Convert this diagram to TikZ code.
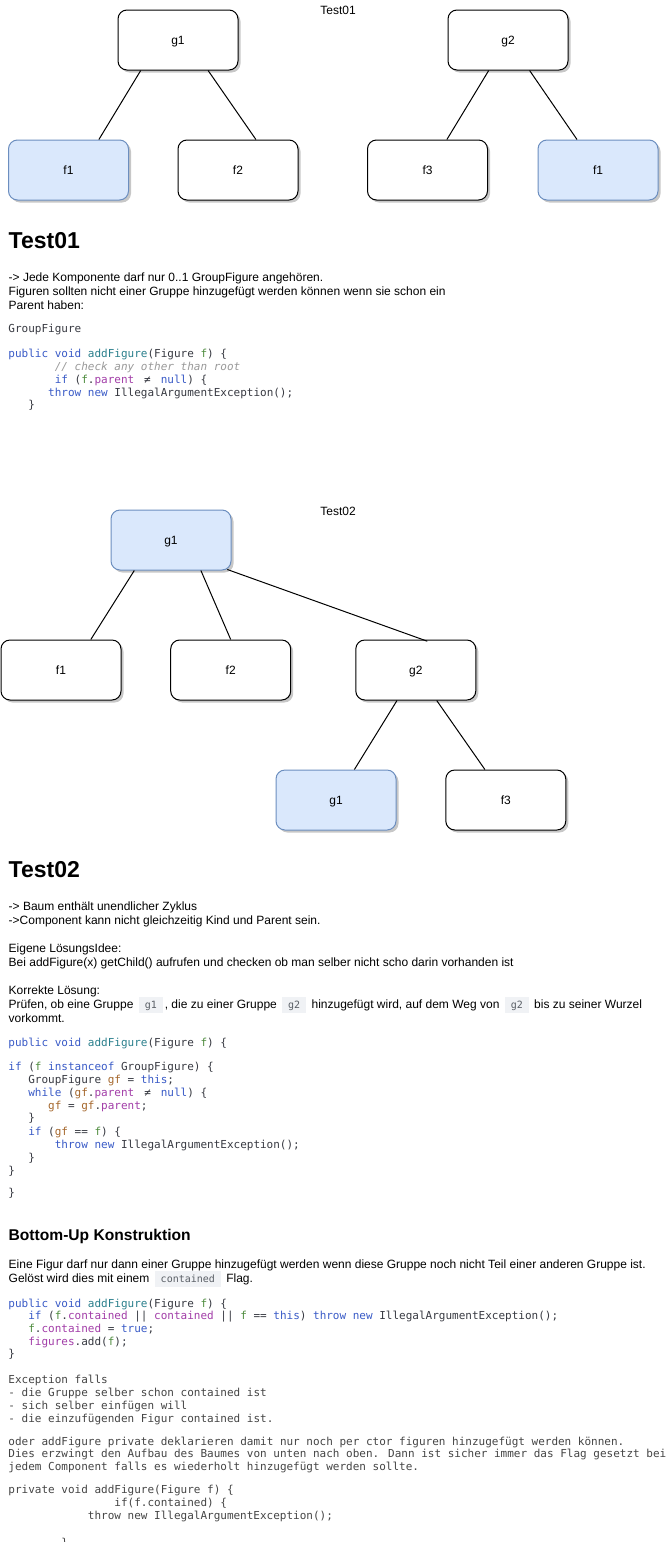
\documentclass[tikz,border=0pt]{standalone}
\usepackage{fontspec}
\setmainfont{Liberation Sans}
\newfontfamily\codefamily{DejaVu Sans Mono}
\usetikzlibrary{shadows}

% palette
\definecolor{boxblue}{HTML}{DAE8FC}
\definecolor{boxblueline}{HTML}{6C8EBF}
\definecolor{kwcol}{HTML}{3A5BC7}
\definecolor{fncol}{HTML}{2A7F8C}
\definecolor{argcol}{HTML}{4E8C3E}
\definecolor{fieldcol}{HTML}{A23DA8}
\definecolor{varcol}{HTML}{A5672C}
\definecolor{commentcol}{HTML}{9A9A9A}
\definecolor{plaincol}{HTML}{383A42}
\definecolor{notecol}{HTML}{454545}
\definecolor{pillbg}{HTML}{F0F2F5}
\definecolor{pilltext}{HTML}{5A5F66}

% code highlighting helpers
\newdimen\codechar \codechar=6.62pt
\newcommand\ind[1]{\hspace*{#1\codechar}}
\newcommand\kw[1]{\textcolor{kwcol}{#1}}
\newcommand\fnname[1]{\textcolor{fncol}{#1}}
\newcommand\argv[1]{\textcolor{argcol}{#1}}
\newcommand\fld[1]{\textcolor{fieldcol}{#1}}
\newcommand\lvar[1]{\textcolor{varcol}{#1}}
\newcommand\cmt[1]{\textcolor{commentcol}{\itshape #1}}
\newcommand\neqlig{\makebox[2\codechar][c]{≠}}
% inline code chip
\newcommand\pill[1]{\hspace{2pt}{\setlength{\fboxsep}{0pt}\colorbox{pillbg}{\rule[-4.8pt]{0pt}{16pt}\hspace{6pt}{\codefamily\fontsize{10}{12}\selectfont\textcolor{pilltext}{#1}}\hspace{6pt}}}\hspace{2pt}}

\tikzset{
  treebox/.style={draw=black, line width=1pt, rounded corners=9pt,
    minimum width=120pt, minimum height=60pt, fill=white,
    font=\fontsize{12}{14}\selectfont, text height=10pt, text depth=1pt,
    drop shadow={shadow xshift=2.5pt, shadow yshift=-2.5pt, fill=black, opacity=0.22}},
  treesel/.style={treebox, draw=boxblueline, fill=boxblue},
  treelink/.style={draw=black, line width=1pt},
  caption/.style={inner sep=0pt, font=\fontsize{12}{14}\selectfont},
  body/.style={anchor=base west, inner sep=0pt, font=\fontsize{12}{14}\selectfont, text=black},
  head/.style={anchor=base west, inner sep=0pt, font=\bfseries\fontsize{23}{27}\selectfont},
  subhead/.style={anchor=base west, inner sep=0pt, font=\bfseries\fontsize{15.6}{19}\selectfont},
  code/.style={anchor=base west, inner sep=0pt, font=\codefamily\fontsize{11}{13}\selectfont, text=plaincol},
  note/.style={code, text=notecol},
}

\begin{document}
\begin{tikzpicture}[x=1pt,y=-1pt]
\useasboundingbox[fill=white] (0,0) rectangle (669,1542);

% ---------- tree of Test01 ----------
\node[caption] (cap1) at (338,10) {Test01};
\node[treebox] (t1g1) at (178,40) {g1};
\node[treebox] (t1g2) at (508,40) {g2};
\node[treesel] (t1f1) at (68.5,170) {f1};
\node[treebox] (t1f2) at (238,170) {f2};
\node[treebox] (t1f3) at (427.5,170) {f3};
\node[treesel] (t1f1b) at (598,170) {f1};
\draw[treelink] ([xshift=-37.3pt]t1g1.south) -- ([xshift=30.4pt]t1f1.north);
\draw[treelink] ([xshift=30.1pt]t1g1.south) -- ([xshift=17.9pt]t1f2.north);
\draw[treelink] ([xshift=-19.3pt]t1g2.south) -- ([xshift=19.4pt]t1f3.north);
\draw[treelink] ([xshift=21.6pt]t1g2.south) -- ([xshift=-21pt]t1f1b.north);

% ---------- notes for Test01 ----------
\node[head] (h1) at (8.5,248) {Test01};
\node[body] (n1a) at (8.5,281) {-> Jede Komponente darf nur 0..1 GroupFigure angehören.};
\node[body] (n1b) at (8.5,295) {Figuren sollten nicht einer Gruppe hinzugefügt werden können wenn sie schon ein};
\node[body] (n1c) at (8.5,309) {Parent haben:};
\node[code] (c1a) at (8.3,332) {GroupFigure};
\node[code] (c1b) at (8.3,357) {\kw{public void} \fnname{addFigure}(Figure \argv{f}) \{};
\node[code] (c1c) at (8.3,370) {\ind{7}\cmt{// check any other than root}};
\node[code] (c1d) at (8.3,383) {\ind{7}\kw{if} (\argv{f}.\fld{parent} \neqlig{} \kw{null}) \{};
\node[code] (c1e) at (8.3,396) {\ind{6}\kw{throw new} IllegalArgumentException();};
\node[code] (c1f) at (8.3,408) {\ind{3}\}};

% ---------- tree of Test02 ----------
\node[caption] (cap2) at (338,511) {Test02};
\node[treesel] (t2g1) at (171,540) {g1};
\node[treebox] (t2f1) at (61,670) {f1};
\node[treebox] (t2f2) at (230.7,670) {f2};
\node[treebox] (t2g2) at (415.8,670) {g2};
\node[treesel] (t2g1b) at (336,800) {g1};
\node[treebox] (t2f3) at (505.8,800) {f3};
\draw[treelink] ([xshift=-36.7pt]t2g1.south) -- ([xshift=29.8pt]t2f1.north);
\draw[treelink] ([xshift=29.9pt]t2g1.south) -- (t2f2.north);
\draw[treelink] ([xshift=56.3pt,yshift=1pt]t2g1.south) -- ([xshift=11.5pt,yshift=-1.7pt]t2g2.north);
\draw[treelink] ([xshift=-18.8pt]t2g2.south) -- ([xshift=18.4pt]t2g1b.north);
\draw[treelink] ([xshift=20.9pt]t2g2.south) -- ([xshift=-20.9pt]t2f3.north);

% ---------- notes for Test02 ----------
\node[head] (h2) at (8.5,877) {Test02};
\node[body] (n2a) at (8.5,910) {-> Baum enthält unendlicher Zyklus};
\node[body] (n2b) at (8.5,924) {->Component kann nicht gleichzeitig Kind und Parent sein.};
\node[body] (n2c) at (8.5,952) {Eigene LösungsIdee:};
\node[body] (n2d) at (8.5,966) {Bei addFigure(x) getChild() aufrufen und checken ob man selber nicht scho darin vorhanden ist};
\node[body] (n2e) at (8.5,994) {Korrekte Lösung:};
\node[body] (n2f) at (8.5,1008) {Prüfen, ob eine Gruppe \pill{g1}, die zu einer Gruppe \pill{g2} hinzugefügt wird, auf dem Weg von \pill{g2} bis zu seiner Wurzel};
\node[body] (n2g) at (8.5,1022) {vorkommt.};
\node[code] (c2a) at (8.3,1046.7) {\kw{public void} \fnname{addFigure}(Figure \argv{f}) \{};
\node[code] (c2b) at (8.3,1070) {\kw{if} (\argv{f} \kw{instanceof} GroupFigure) \{};
\node[code] (c2c) at (8.3,1083.3) {\ind{3}GroupFigure \lvar{gf} = \kw{this};};
\node[code] (c2d) at (8.3,1096) {\ind{3}\kw{while} (\lvar{gf}.\fld{parent} \neqlig{} \kw{null}) \{};
\node[code] (c2e) at (8.3,1109) {\ind{6}\lvar{gf} = \lvar{gf}.\fld{parent};};
\node[code] (c2f) at (8.3,1121.7) {\ind{3}\}};
\node[code] (c2g) at (8.3,1135) {\ind{3}\kw{if} (\lvar{gf} == \argv{f}) \{};
\node[code] (c2h) at (8.3,1148.3) {\ind{7}\kw{throw new} IllegalArgumentException();};
\node[code] (c2i) at (8.3,1161) {\ind{3}\}};
\node[code] (c2j) at (8.3,1174) {\}};
\node[code] (c2k) at (8.3,1196.7) {\}};

% ---------- Bottom-Up section ----------
\node[subhead] (h3) at (8.5,1240) {Bottom-Up Konstruktion};
\node[body] (n3a) at (8.5,1268) {Eine Figur darf nur dann einer Gruppe hinzugefügt werden wenn diese Gruppe noch nicht Teil einer anderen Gruppe ist.};
\node[body] (n3b) at (8.5,1282) {Gelöst wird dies mit einem \pill{contained} Flag.};
\node[code] (c3a) at (8.3,1307) {\kw{public void} \fnname{addFigure}(Figure \argv{f}) \{};
\node[code] (c3b) at (8.3,1319.7) {\ind{3}\kw{if} (\argv{f}.\fld{contained} || \fld{contained} || \argv{f} == \kw{this}) \kw{throw new} IllegalArgumentException();};
\node[code] (c3c) at (8.3,1332.4) {\ind{3}\argv{f}.\fld{contained} = \kw{true};};
\node[code] (c3d) at (8.3,1345.1) {\ind{3}\fld{figures}.add(\argv{f});};
\node[code] (c3e) at (8.3,1357.8) {\}};

\node[note] (m1) at (8.3,1383) {Exception falls};
\node[note] (m2) at (8.3,1396) {- die Gruppe selber schon contained ist};
\node[note] (m3) at (8.3,1409) {- sich selber einfügen will};
\node[note] (m4) at (8.3,1422) {- die einzufügenden Figur contained ist.};
\node[note] (m5) at (8.3,1445) {oder addFigure private deklarieren damit nur noch per ctor figuren hinzugefügt werden können.};
\node[note] (m6) at (8.3,1457.5) {Dies erzwingt den Aufbau des Baumes von unten nach oben. Dann ist sicher immer das Flag gesetzt bei};
\node[note] (m7) at (8.3,1470) {jedem Component falls es wiederholt hinzugefügt werden sollte.};
\node[note] (m8) at (8.3,1493) {private void addFigure(Figure f) \{};
\node[note] (m9) at (8.3,1506) {\ind{16}if(f.contained) \{};
\node[note] (m10) at (8.3,1519) {\ind{12}throw new IllegalArgumentException();};
\node[note] (m11) at (8.3,1546) {\ind{8}\}};
\end{tikzpicture}
\end{document}
